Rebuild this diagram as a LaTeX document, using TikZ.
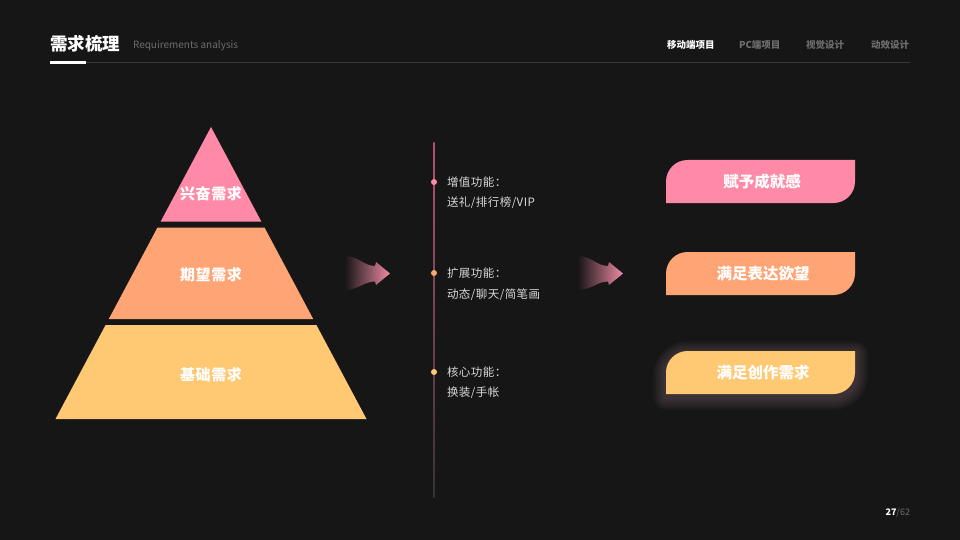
\documentclass[tikz,border=0pt]{standalone}
\usepackage{fontspec}
\setmainfont{Noto Sans CJK SC}
\newfontfamily\spacedfont{Noto Sans CJK SC}[LetterSpace=4]
\usetikzlibrary{calc}
\definecolor{bgc}{HTML}{171617}
\definecolor{pinkc}{HTML}{FF8AA8}
\definecolor{orangec}{HTML}{FFA474}
\definecolor{yellowc}{HTML}{FFC872}
\definecolor{softtext}{HTML}{D8D8D8}
\definecolor{dimtext}{HTML}{6E6E6E}
\definecolor{rulec}{HTML}{3A3A3A}
\definecolor{linetop}{HTML}{B4506E}
\definecolor{linebot}{HTML}{363335}
\definecolor{arrowpink}{HTML}{F08AA2}
\definecolor{glowc}{HTML}{8A7078}
\newcommand\tagpath{(666,203) -- (666,181.5) .. controls (666,169.6) and (675.6,160) .. (687.5,160) -- (855,160) -- (855,181.5) .. controls (855,193.4) and (845.4,203) .. (833.5,203) -- cycle}
\newcommand\arrowpath{(345,256) .. controls (358,256) and (364,266) .. (375,266) -- (376,262) -- (390,273.5) -- (376,285) -- (375,281.5) .. controls (364,281.5) and (358,290) .. (345,290) -- cycle}
\begin{document}
\begin{tikzpicture}[x=1pt,y=-1pt,
  every node/.style={inner sep=0pt, outer sep=0pt},
  tierlabel/.style={font=\spacedfont\fontsize{15}{15}\selectfont\bfseries, text=white},
  taglabel/.style={font=\fontsize{15.5}{15.5}\selectfont\bfseries, text=white},
  featlabel/.style={font=\spacedfont\fontsize{11.5}{11.5}\selectfont, text=softtext, anchor=west},
  navlabel/.style={font=\fontsize{9.5}{9.5}\selectfont\bfseries, text=dimtext, anchor=west},
  dotmark/.style={circle, minimum size=6pt}]
\useasboundingbox (0,0) rectangle (960,540);
\fill[bgc] (0,0) rectangle (960,540);

% header
\node[anchor=west, font=\fontsize{17.5}{17.5}\selectfont\bfseries, text=white] (title) at (50,44) {需求梳理};
\node[anchor=base west, font=\fontsize{10}{10}\selectfont, text=dimtext] (subtitle) at (133,49) {Requirements analysis};
\fill[rulec] (86,62.5) rectangle (910,63.5);
\fill[white] (50,61.3) rectangle (86,63.8);
\node[navlabel, text=white] (nav1) at (667,45) {移动端项目};
\node[navlabel] (nav2) at (739,45) {PC端项目};
\node[navlabel] (nav3) at (806,45) {视觉设计};
\node[navlabel] (nav4) at (871,45) {动效设计};

% pyramid
\fill[pinkc] (211,127) -- (261.3,221.5) -- (160.7,221.5) -- cycle;
\fill[orangec] (157.5,227.5) -- (264.5,227.5) -- (313.2,319) -- (108.8,319) -- cycle;
\fill[yellowc] (105.6,325) -- (316.4,325) -- (366.5,419) -- (55.5,419) -- cycle;
\node[tierlabel] (tier1) at (211,194) {兴奋需求};
\node[tierlabel] (tier2) at (211,275) {期望需求};
\node[tierlabel] (tier3) at (211,375) {基础需求};

% arrows
\shade[left color=bgc, right color=arrowpink] \arrowpath;
\shade[left color=bgc, right color=arrowpink, xshift=233pt] \arrowpath;

% timeline
\coordinate (ltop) at (434,143);
\coordinate (lbot) at (434,497);
\shade[top color=linetop, bottom color=linebot] (433.4,143) rectangle (434.6,497);
\node[dotmark, fill=pinkc] (d1) at (434,182) {};
\node[dotmark, fill=orangec] (d2) at (434,273) {};
\node[dotmark, fill=yellowc] (d3) at (434,372) {};
\node[featlabel] (f1) at (447,182) {增值功能：};
\node[featlabel] (g1) at (447,203) {送礼/排行榜/VIP};
\node[featlabel] (f2) at (447,273) {扩展功能：};
\node[featlabel] (g2) at (447,295) {动态/聊天/简笔画};
\node[featlabel] (f3) at (447,372) {核心功能：};
\node[featlabel] (g3) at (447,393) {换装/手帐};

% tags
\foreach \w in {26,23,20,17,14,11,8,5} {
  \draw[glowc, line width=\w pt, draw opacity=0.05, line join=round, yshift=-194pt] \tagpath;
}
\fill[pinkc] \tagpath;
\fill[orangec, yshift=-92pt] \tagpath;
\fill[yellowc, yshift=-191pt] \tagpath;
\node[taglabel] (tag1) at (762,181.5) {赋予成就感};
\node[taglabel] (tag2) at (763,273.5) {满足表达欲望};
\node[taglabel] (tag3) at (763,372.5) {满足创作需求};

% page number
\node[anchor=east, font=\fontsize{9}{9}\selectfont] (page) at (910,513) {\textcolor{white}{\bfseries 27}\textcolor{dimtext}{/62}};
\end{tikzpicture}
\end{document}
